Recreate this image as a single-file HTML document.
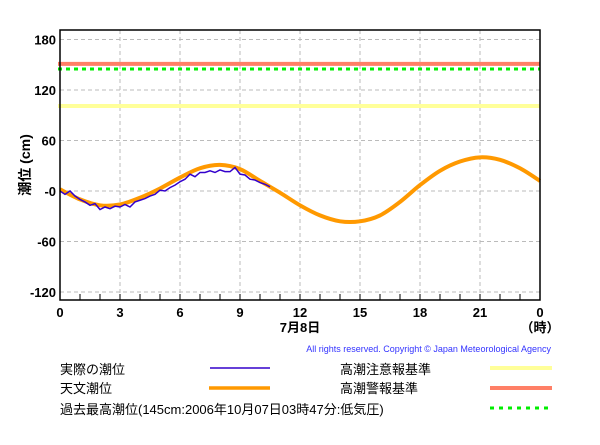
<!DOCTYPE html>
<html><head><meta charset="utf-8"><style>
body{margin:0;background:#fff;width:600px;height:440px;overflow:hidden;font-family:"Liberation Sans","Noto Sans CJK JP",sans-serif}
svg text{font-family:"Liberation Sans","Noto Sans CJK JP",sans-serif}
</style></head><body>
<svg id="c" width="600" height="440" xmlns="http://www.w3.org/2000/svg">
<g id="grid"></g>
<g id="thresholds"></g>
<g id="series"></g>
<rect x="60" y="30" width="480" height="270" fill="none" stroke="#000" stroke-width="1.5"/>
<g id="axes"></g>
<text x="30" y="165" font-size="14" font-weight="bold" text-anchor="middle" transform="rotate(-90 30 165)">潮位 (cm)</text>
<text x="300" y="332" font-size="13" font-weight="bold" text-anchor="middle">7月8日</text>
<text x="540" y="332" font-size="13" font-weight="bold" text-anchor="middle">（時）</text>
<text x="551" y="352" font-size="9" fill="#3333ff" text-anchor="end">All rights reserved. Copyright © Japan Meteorological Agency</text>
<g font-size="13">
<text x="60" y="374">実際の潮位</text>
<line x1="210" y1="368" x2="270" y2="368" stroke="#3300cc" stroke-width="1.5"/>
<text x="60" y="393">天文潮位</text>
<line x1="209" y1="388" x2="270" y2="388" stroke="#ff9900" stroke-width="3.5"/>
<text x="60" y="414">過去最高潮位(145cm:2006年10月07日03時47分:低気圧)</text>
<line x1="490" y1="408" x2="548" y2="408" stroke="#00ee00" stroke-width="3" stroke-dasharray="4,5"/>
<text x="340" y="374">高潮注意報基準</text>
<line x1="490" y1="368" x2="552" y2="368" stroke="#ffff99" stroke-width="4"/>
<text x="340" y="393">高潮警報基準</text>
<line x1="490" y1="388" x2="552" y2="388" stroke="#ff7f66" stroke-width="4"/>
</g>
</svg>
<script>
const yTicks=[180,120,60,0,-60,-120];
const yTickLabels=["180","120","60","-0","-60","-120"];
const xTicks=[0,3,6,9,12,15,18,21,24];
const xTickLabels=["0","3","6","9","12","15","18","21","0"];
const astroHours=[0,1,2,3,4,5,6,7,8,9,10,11,12,13,14,15,16,17,18,19,20,21,22,23,24];
const astroValues=[2,-10,-17,-16,-8,3,16,27,31,26,12,-2,-17,-29,-36,-36,-29,-13,7,24,35,40,37,27,12];
const actualHours=[0,0.25,0.5,0.75,1,1.25,1.5,1.75,2,2.25,2.5,2.75,3,3.25,3.5,3.75,4,4.25,4.5,4.75,5,5.25,5.5,5.75,6,6.25,6.5,6.75,7,7.25,7.5,7.75,8,8.25,8.5,8.75,9,9.25,9.5,9.75,10,10.25,10.5];
const actualValues=[0,-4,0,-6,-10,-13,-17,-15,-22,-19,-21,-18,-19,-16,-19,-13,-11,-9,-6,-4,1,0,4,7,11,14,20,17,22,22,24,22,25,23,23,28,20,19,14,13,10,8,5];
const thresholdNames=["advisory","record","warning"];
const thresholdValues=[101,145,151];
const thresholdColors=["#ffff99","#00ee00","#ff7f66"];
const NS="http://www.w3.org/2000/svg";
const X=h=>60+h*20;
const Y=v=>191-v*0.8417;
function mk(p,t,a){const e=document.createElementNS(NS,t);for(const k in a)e.setAttribute(k,a[k]);p.appendChild(e);return e;}
const grid=document.getElementById('grid'),axes=document.getElementById('axes'),th=document.getElementById('thresholds'),se=document.getElementById('series');
yTicks.forEach((v,i)=>{
 const l=mk(grid,'line',{x1:60,x2:540,y1:Y(v),y2:Y(v),stroke:'#bbb','stroke-dasharray':'4,3'});
 
 
 const t=mk(axes,'text',{x:56,y:Y(v)+5,'font-size':'13','font-weight':'bold','text-anchor':'end'});
 t.textContent=yTickLabels[i];
 
 
});
xTicks.forEach((h,i)=>{
 if(h>0&&h<24){const l=mk(grid,'line',{x1:X(h),x2:X(h),y1:30,y2:300,stroke:'#bbb','stroke-dasharray':'4,3'});
 
 }
 const t=mk(axes,'text',{x:X(h),y:317,'font-size':'13','font-weight':'bold','text-anchor':'middle'});
 t.textContent=xTickLabels[i];
 
 
});
for(let h=1;h<24;h++){const l=mk(axes,'line',{x1:X(h),x2:X(h),y1:294,y2:300,stroke:'#000'});
 
 }
thresholdValues.forEach((v,i)=>{
 const l=mk(th,'line',{x1:58,x2:540,y1:Y(v),y2:Y(v),stroke:thresholdColors[i],'stroke-width':i==1?3:4,'stroke-dasharray':i==1?'4,4':'none'});
 
 
});
function smooth(xs,ys){let d='M'+X(xs[0])+','+Y(ys[0]);
 for(let i=0;i<xs.length-1;i++){const x0=xs[Math.max(i-1,0)],y0=ys[Math.max(i-1,0)],x3=xs[Math.min(i+2,xs.length-1)],y3=ys[Math.min(i+2,xs.length-1)];
 const c1x=X(xs[i])+(X(xs[i+1])-X(x0))/6,c1y=Y(ys[i])+(Y(ys[i+1])-Y(y0))/6,c2x=X(xs[i+1])-(X(x3)-X(xs[i]))/6,c2y=Y(ys[i+1])-(Y(y3)-Y(ys[i]))/6;
 d+=` C${c1x},${c1y} ${c2x},${c2y} ${X(xs[i+1])},${Y(ys[i+1])}`;}return d;}
const a=mk(se,'path',{d:smooth(astroHours,astroValues),fill:'none',stroke:'#ff9900','stroke-width':4});


const p=mk(se,'polyline',{points:actualHours.map((h,i)=>X(h)+','+Y(actualValues[i])).join(' '),fill:'none',stroke:'#3300cc','stroke-width':1.5});


</script>
</body></html>
